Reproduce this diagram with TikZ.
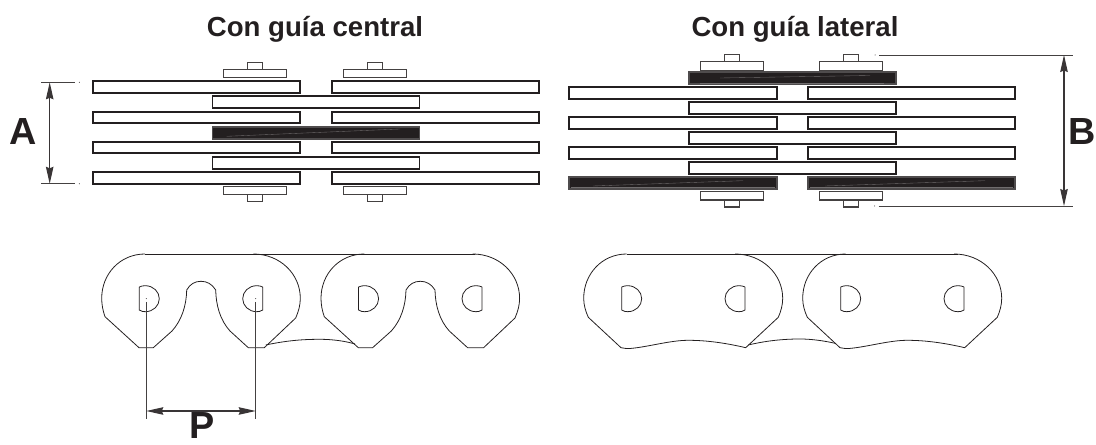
\documentclass[tikz,border=0pt]{standalone}
\usepackage{fontspec}
\setmainfont{Liberation Sans}
\usetikzlibrary{arrows.meta}

\definecolor{inkdark}{HTML}{231F20}
\tikzset{
  plate/.style={draw=inkdark,line width=1.05pt,fill=white},
  platedark/.style={draw=inkdark!80,line width=1.05pt,fill=inkdark},
  streak/.style={white!35!inkdark,line width=0.2pt},
  pinhead/.style={draw=inkdark!85,line width=0.65pt,fill=white},
  outline/.style={draw=inkdark,line width=0.45pt},
  extline/.style={draw=inkdark!85,line width=0.5pt},
  dimline/.style={draw=inkdark!90,line width=0.6pt,{Stealth[length=0.34cm,width=0.15cm,inset=0.03cm]}-{Stealth[length=0.34cm,width=0.15cm,inset=0.03cm]}},
  titlelabel/.style={anchor=base,font=\fontsize{15.7}{18}\selectfont\bfseries,text=inkdark,inner sep=0pt},
  dimlabel/.style={anchor=base,font=\fontsize{21.5}{24}\selectfont\bfseries,text=inkdark,inner sep=0pt},
  dhole/.pic={
    \draw[outline] (0,-11.7) -- (0,11.3)
      .. controls (2,12.7) and (4,13) .. (6,13)
      .. controls (14,13) and (20,7) .. (20,0)
      .. controls (20,-7) and (14,-13) .. (6,-13)
      .. controls (4,-13) and (2,-12.7) .. (0,-11.7);
  }
}

\begin{document}
\begin{tikzpicture}[x=0.02cm,y=-0.02cm]
  \useasboundingbox (0,0) rectangle (1096,445);

  % titles
  \node[titlelabel] (central) at (315,36.7) {Con guía central};
  \node[titlelabel] (lateral) at (795,36.7) {Con guía lateral};

  % centre guide, top view
  \foreach \y in {87,117.3,147.7,178} {
    \draw[plate] (93,\y-5.7) rectangle (300,\y+5.7);
    \draw[plate] (332,\y-5.7) rectangle (539,\y+5.7);
  }
  \foreach \y in {102,163}
    \draw[plate] (212.5,\y-5.7) rectangle (419.5,\y+5.7);
  \draw[platedark] (212.5,127) rectangle (419.5,139.3);
  \draw[streak] (226.7,136.3) -- (400,129);
  \foreach \x in {255.3,374.8} {
    \draw[pinhead] (\x-7.5,62.3) rectangle (\x+7.5,69.3);
    \draw[pinhead] (\x-31.5,69.3) rectangle (\x+31.5,77.7);
    \draw[pinhead] (\x-31.5,186.3) rectangle (\x+31.5,194.7);
    \draw[pinhead] (\x-7.5,194.7) rectangle (\x+7.5,201.7);
  }

  % side guide, top view
  \foreach \y in {92.8,122.8,153} {
    \draw[plate] (569.3,\y-5.9) rectangle (776.7,\y+5.9);
    \draw[plate] (808.3,\y-5.9) rectangle (1015.3,\y+5.9);
  }
  \foreach \y in {107.8,137.8,168}
    \draw[plate] (688.7,\y-5.9) rectangle (896,\y+5.9);
  \draw[platedark] (688.7,72) rectangle (896,84);
  \draw[platedark] (569.3,177) rectangle (776.7,189);
  \draw[platedark] (808.3,177) rectangle (1015.3,189);
  \draw[streak] (700,82.7) -- (884,82.7);
  \draw[streak] (720,78) -- (870,75.5);
  \draw[streak] (593,186) -- (743,180.7);
  \draw[streak] (571,187.6) -- (775,187.6);
  \draw[streak] (825,186) -- (985,180.7);
  \draw[streak] (810,187.6) -- (1013,187.6);
  \foreach \x in {731.8,851.2} {
    \draw[pinhead] (\x-7.5,54.7) rectangle (\x+7.5,61.9);
    \draw[pinhead] (\x-31.5,61.9) rectangle (\x+31.5,70.3);
    \draw[pinhead] (\x-31.5,191.7) rectangle (\x+31.5,200);
    \draw[pinhead] (\x-7.5,200) rectangle (\x+7.5,207);
  }

  % centre guide, side view
  \draw[outline] (145,254) -- (475,254);
  \foreach \sx in {0,219.3} {
    \begin{scope}[shift={(\sx,0)}]
      \draw[outline] (253.3,254)
        .. controls (280,254) and (300.3,274) .. (300.3,298.3)
        .. controls (300.3,305) and (298.7,311) .. (295.7,318)
        -- (264.3,347.7) -- (248.3,347.7) -- (230,331)
        .. controls (220,320) and (216,305) .. (215.7,290)
        .. controls (212,284) and (207,281.3) .. (201,281.3)
        .. controls (195,281.3) and (190,284) .. (186.7,290)
        .. controls (186.4,305) and (182,320) .. (172,331)
        -- (153.3,347.7) -- (139,347.7) -- (105,316.7)
        .. controls (103,311) and (101.7,305) .. (101.7,298.3)
        .. controls (101.7,274) and (120,254) .. (145,254);
      \pic at (139.3,298.7) {dhole};
      \pic[xscale=-1] at (262.7,298.7) {dhole};
    \end{scope}
  }
  \draw[outline] (265.7,345) .. controls (285,341) and (300,339.3) .. (320,339.3)
    .. controls (332,339.3) and (345,341) .. (355,344);

  % side guide, side view
  \draw[outline] (626.7,254) -- (958.3,254);
  \foreach \sx in {0,219} {
    \begin{scope}[shift={(\sx,0)}]
      \draw[outline] (735,254)
        .. controls (762,254) and (782.7,274) .. (782.7,298.3)
        .. controls (782.7,305) and (781,311) .. (778.3,317.3)
        -- (745.7,347.7)
        .. controls (728,343.5) and (708,340.3) .. (688.3,340.3)
        .. controls (670,340.3) and (648,347) .. (630,348.5)
        .. controls (627,348.7) and (624,348.3) .. (621,347.7)
        -- (588.3,317.3)
        .. controls (585.5,311) and (583.7,305) .. (583.7,298.3)
        .. controls (583.7,274) and (602,254) .. (626.7,254);
      \pic at (621.7,298.7) {dhole};
      \pic[xscale=-1] at (745,298.7) {dhole};
    \end{scope}
  }
  \draw[outline] (748.3,345) .. controls (765,341) and (782,339) .. (800,339)
    .. controls (812,339) and (825,341) .. (835,343.3);

  % dimension A
  \coordinate (atopl) at (41,82.3);
  \coordinate (atopr) at (75,82.3);
  \coordinate (abotl) at (41,183.8);
  \coordinate (abotr) at (75,183.8);
  \coordinate (atip) at (49.7,82.3);
  \coordinate (abot) at (49.7,183.8);
  \draw[extline] (atopl) -- (atopr);
  \draw[extline] (abotl) -- (abotr);
  \draw[dimline] (atip) -- (abot);
  \fill[inkdark] (79.3,82.3) circle (0.5);
  \fill[inkdark] (79.3,183.8) circle (0.5);
  \node[dimlabel] (alabel) at (23.5,145) {A};

  % dimension B
  \coordinate (btopl) at (879.3,55);
  \coordinate (btopr) at (1072.7,55);
  \coordinate (bbotl) at (878.5,206);
  \coordinate (bbotr) at (1072.7,206);
  \coordinate (btip) at (1064,55);
  \coordinate (bbot) at (1064,206);
  \draw[extline] (btopl) -- (btopr);
  \draw[extline] (bbotl) -- (bbotr);
  \draw[dimline] (btip) -- (bbot);
  \fill[inkdark] (875,55) circle (0.5);
  \fill[inkdark] (874.5,206) circle (0.5);
  \node[dimlabel] (blabel) at (1082,145) {B};

  % dimension P
  \coordinate (pleftt) at (146.3,302);
  \coordinate (pleftb) at (146.3,419);
  \coordinate (prightt) at (255.7,302);
  \coordinate (prightb) at (255.7,419);
  \coordinate (ptipl) at (146.3,411);
  \coordinate (ptipr) at (255.7,411);
  \draw[extline] (pleftt) -- (pleftb);
  \draw[extline] (prightt) -- (prightb);
  \draw[dimline] (ptipl) -- (ptipr);
  \fill[inkdark] (146.3,298.7) circle (0.5);
  \fill[inkdark] (255.7,298.7) circle (0.5);
  \node[dimlabel] (plabel) at (202.5,438.5) {P};
\end{tikzpicture}
\end{document}
